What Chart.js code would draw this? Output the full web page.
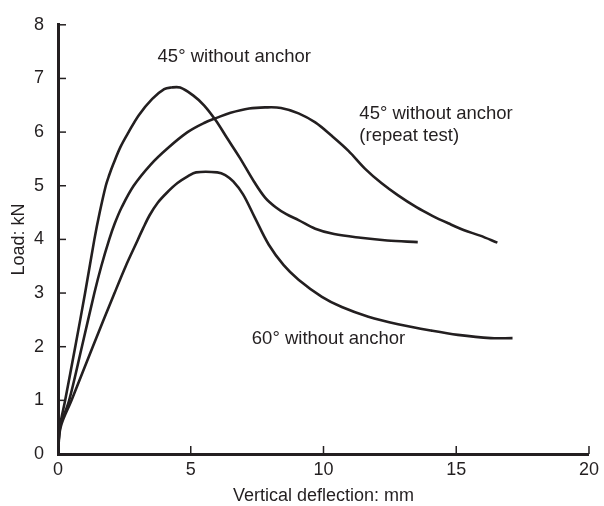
<!DOCTYPE html>
<html>
<head>
<meta charset="utf-8">
<script src="https://cdn.jsdelivr.net/npm/chart.js@4.4.1/dist/chart.umd.min.js"></script>
<style>
  html, body { margin: 0; padding: 0; background: #fff; }
  #wrap { width: 604px; height: 506px; }
</style>
</head>
<body>
<div id="wrap"><canvas id="chart" width="604" height="506"></canvas></div>
<script>
// load-deflection curves (x: mm, y: kN)
const deflection45 = [0, 0.07, 0.27, 0.65, 1.02, 1.37, 1.57, 1.8, 1.93, 2.08, 2.35, 2.66, 3.05, 3.55, 4.0, 4.25, 4.6, 5.1, 5.5, 5.94, 6.38, 6.85, 7.38, 7.8, 8.2, 8.6, 9.06, 9.69, 10.4, 11.4, 12.4, 13.55];
const load45 = [0, 0.5, 1.0, 2.0, 3.0, 4.0, 4.5, 5.0, 5.2, 5.4, 5.72, 6.0, 6.32, 6.62, 6.8, 6.83, 6.83, 6.68, 6.5, 6.22, 5.88, 5.52, 5.08, 4.78, 4.6, 4.47, 4.36, 4.2, 4.1, 4.03, 3.98, 3.95];

const deflectionRepeat = [0, 0.08, 0.42, 0.9, 1.37, 1.63, 1.93, 2.14, 2.4, 2.85, 3.5, 4.13, 4.88, 5.5, 6.0, 6.5, 7.2, 7.8, 8.4, 9.06, 9.69, 10.31, 10.94, 11.56, 12.18, 12.81, 13.5, 14.1, 14.7, 15.3, 15.9, 16.55];
const loadRepeat = [0, 0.5, 1.0, 2.0, 3.0, 3.5, 4.0, 4.3, 4.6, 5.0, 5.4, 5.7, 6.0, 6.17, 6.27, 6.36, 6.44, 6.46, 6.45, 6.35, 6.18, 5.93, 5.65, 5.32, 5.05, 4.82, 4.6, 4.44, 4.3, 4.17, 4.07, 3.94];

const deflection60 = [0, 0.1, 0.51, 1.31, 2.13, 2.55, 2.92, 3.2, 3.45, 3.75, 4.1, 4.5, 4.9, 5.2, 6.0, 6.3, 6.6, 6.97, 7.4, 7.94, 8.5, 9.06, 9.94, 10.69, 11.69, 12.81, 14.06, 15.06, 16.3, 17.12];
const load60 = [0, 0.5, 1.0, 2.0, 3.0, 3.5, 3.9, 4.2, 4.45, 4.68, 4.87, 5.05, 5.18, 5.25, 5.25, 5.2, 5.08, 4.84, 4.42, 3.9, 3.52, 3.25, 2.93, 2.74, 2.56, 2.42, 2.3, 2.22, 2.16, 2.16];

// curve labels: [text lines, x (mm), y (kN)] for the first line's baseline
const curveLabels = [
  [["45° without anchor"], 3.75, 7.31],
  [["45° without anchor", "(repeat test)"], 11.35, 6.25],
  [["60° without anchor"], 7.3, 2.05]
];

const ink = "#231f20";
const font = "'Liberation Sans', Arial, sans-serif";

const toPoints = (xs, ys) => xs.map((x, i) => ({ x: x, y: ys[i] }));

const curve = (label, xs, ys) => ({
  label: label,
  data: toPoints(xs, ys),
  showLine: true,
  borderColor: ink,
  borderWidth: 2.6,
  pointRadius: 0,
  tension: 0.35,
  fill: false
});

// inward tick marks on both axes
const innerTicks = {
  id: "innerTicks",
  afterDraw(chart) {
    const { ctx, chartArea, scales } = chart;
    ctx.save();
    ctx.strokeStyle = ink;
    ctx.lineWidth = 1.5;
    scales.x.ticks.forEach((t) => {
      const px = scales.x.getPixelForValue(t.value);
      ctx.beginPath();
      ctx.moveTo(px, chartArea.bottom);
      ctx.lineTo(px, chartArea.bottom - 8);
      ctx.stroke();
    });
    scales.y.ticks.forEach((t) => {
      const py = scales.y.getPixelForValue(t.value);
      ctx.beginPath();
      ctx.moveTo(chartArea.left, py);
      ctx.lineTo(chartArea.left + 8, py);
      ctx.stroke();
    });
    ctx.restore();
  }
};

// text labels next to the curves
const curveText = {
  id: "curveText",
  afterDatasetsDraw(chart) {
    const { ctx, scales } = chart;
    ctx.save();
    ctx.fillStyle = ink;
    ctx.font = "18.5px " + font;
    ctx.textAlign = "left";
    ctx.textBaseline = "alphabetic";
    curveLabels.forEach(([lines, x, y]) => {
      const px = scales.x.getPixelForValue(x);
      const py = scales.y.getPixelForValue(y);
      lines.forEach((line, i) => ctx.fillText(line, px, py + i * 22));
    });
    ctx.restore();
  }
};

new Chart(document.getElementById("chart"), {
  type: "scatter",
  data: {
    datasets: [
      curve("45° without anchor", deflection45, load45),
      curve("45° without anchor (repeat test)", deflectionRepeat, loadRepeat),
      curve("60° without anchor", deflection60, load60)
    ]
  },
  options: {
    responsive: false,
    animation: false,
    layout: { padding: { top: 18, right: 11, left: 0, bottom: 0 } },
    plugins: {
      legend: { display: false },
      tooltip: { enabled: false }
    },
    scales: {
      x: {
        type: "linear",
        min: 0,
        max: 20,
        afterFit: (scale) => { scale.height = 52; },
        ticks: { stepSize: 5, color: ink, padding: 5, font: { family: font, size: 18 } },
        grid: { display: false, drawTicks: false },
        border: { display: true, color: ink, width: 3 },
        title: {
          display: true,
          text: "Vertical deflection: mm",
          color: ink,
          padding: { top: 0, bottom: -1 },
          font: { family: font, size: 18 }
        }
      },
      y: {
        type: "linear",
        min: 0,
        max: 8,
        afterFit: (scale) => { scale.width = 58; },
        ticks: { stepSize: 1, color: ink, padding: 14, font: { family: font, size: 18 } },
        grid: { display: false, drawTicks: false },
        border: { display: true, color: ink, width: 3 },
        title: {
          display: true,
          text: "Load: kN",
          color: ink,
          padding: { top: 8, bottom: 0 },
          font: { family: font, size: 18 }
        }
      }
    }
  },
  plugins: [innerTicks, curveText]
});
</script>
</body>
</html>
